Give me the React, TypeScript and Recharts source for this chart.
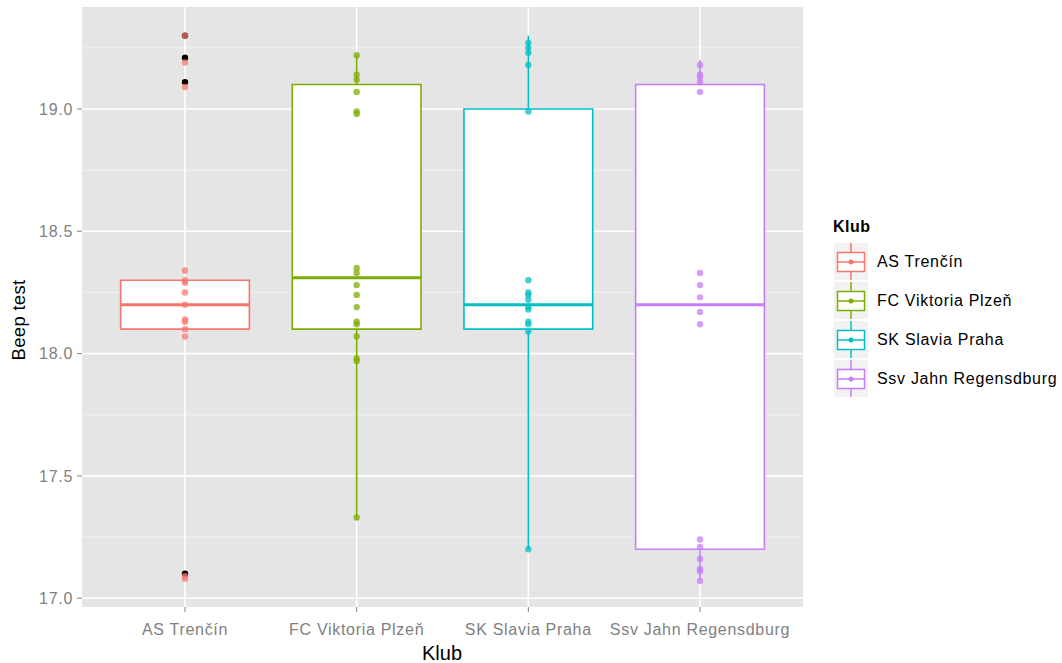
import React from "react";
import {
  ComposedChart, XAxis, YAxis, CartesianGrid, ReferenceArea, ReferenceLine, Scatter,
} from "recharts";

const clubs = ["AS Trenčín", "FC Viktoria Plzeň", "SK Slavia Praha", "Ssv Jahn Regensdburg"];
const colors = ["#F8766D", "#7CAE00", "#00BFC4", "#C77CFF"];

// box stats per club
const q1 = [18.1, 18.1, 18.1, 17.2];
const medians = [18.2, 18.31, 18.2, 18.2];
const q3 = [18.3, 19.1, 19.0, 19.1];
const whiskerLow = [18.1, 17.32, 17.2, 17.07];
const whiskerHigh = [18.3, 19.22, 19.3, 19.2];

// boxplot outliers (black), only AS Trenčín has them
const outliersTrencin = [19.3, 19.21, 19.11, 17.1];

// jittered beep test results
const pointsTrencin = [19.3, 19.19, 19.09, 18.34, 18.3, 18.29, 18.25, 18.2, 18.14, 18.13, 18.1, 18.07, 17.09, 17.08];
const pointsPlzen = [19.22, 19.14, 19.12, 19.07, 18.99, 18.98, 18.35, 18.33, 18.28, 18.24, 18.19, 18.13, 18.12, 18.07, 17.98, 17.97, 17.33];
const pointsSlavia = [19.27, 19.25, 19.23, 19.18, 18.99, 18.3, 18.25, 18.24, 18.22, 18.19, 18.18, 18.13, 18.12, 18.09, 17.2];
const pointsJahn = [19.18, 19.14, 19.13, 19.11, 19.07, 18.33, 18.28, 18.23, 18.17, 18.12, 17.24, 17.21, 17.16, 17.12, 17.11, 17.07];

const yTicks = [17, 17.5, 18, 18.5, 19];
const yMinor = [17.25, 17.75, 18.25, 18.75, 19.25];
const xTicks = [1, 2, 3, 4];

const FONT = '"Liberation Sans", Arial, sans-serif';
const HALF = 0.375;
const SPACING = 0.7;

const pointSets = [pointsTrencin, pointsPlzen, pointsSlavia, pointsJahn];

function dot(color: string, opacity: number, r: number) {
  // eslint-disable-next-line @typescript-eslint/no-explicit-any
  return (p: any) => <circle cx={p.cx} cy={p.cy} r={r} fill={color} fillOpacity={opacity} />;
}

function LegendKey({ color }: { color: string }) {
  return (
    <svg width={34} height={37} style={{ display: "block" }}>
      <rect x={0} y={0} width={34} height={37} fill="#F2F2F2" />
      <line x1={17} y1={0} x2={17} y2={37} stroke={color} strokeWidth={1.5} />
      <rect x={3.5} y={9.5} width={27} height={19} fill="#fff" stroke={color} strokeWidth={1.5} />
      <line x1={3.5} y1={19} x2={30.5} y2={19} stroke={color} strokeWidth={1.5} />
      <circle cx={17} cy={19} r={2.5} fill={color} />
    </svg>
  );
}

const tickStyle = { fill: "#7F7F7F", fontSize: 16, fontFamily: FONT, letterSpacing: SPACING };

export default function App() {
  return (
    <div style={{ position: "absolute", left: 0, top: 0, width: 1062, height: 663, background: "#fff", fontFamily: FONT }}>
      <ComposedChart width={808} height={663} margin={{ top: 7, right: 5, left: 0, bottom: 0 }}>
        <CartesianGrid fill="#E5E5E5" stroke="#F2F2F2" strokeWidth={1} vertical={false}
          horizontalValues={yMinor} />
        <CartesianGrid stroke="#FFFFFF" strokeWidth={1.6} horizontalValues={yTicks} verticalValues={xTicks} />
        <XAxis type="number" dataKey="x" domain={[0.4, 4.6]} ticks={xTicks} allowDataOverflow
          tickFormatter={(v: number) => clubs[v - 1] ?? ""} axisLine={false} height={56}
          tickSize={5} tickMargin={12} tickLine={{ stroke: "#7F7F7F" }}
          tick={tickStyle} interval={0} />
        <YAxis type="number" dataKey="y" domain={[16.964, 19.417]} ticks={yTicks} allowDataOverflow
          tickFormatter={(v: number) => v.toFixed(1)} axisLine={false} width={82}
          tickSize={5} tickMargin={4} tickLine={{ stroke: "#7F7F7F" }}
          tick={tickStyle} />

        {clubs.map((c, i) => (
          <ReferenceLine key={`wl${i}`} segment={[{ x: i + 1, y: whiskerLow[i] }, { x: i + 1, y: q1[i] }]}
            stroke={colors[i]} strokeWidth={1.6} />
        ))}
        {clubs.map((c, i) => (
          <ReferenceLine key={`wh${i}`} segment={[{ x: i + 1, y: q3[i] }, { x: i + 1, y: whiskerHigh[i] }]}
            stroke={colors[i]} strokeWidth={1.6} />
        ))}
        {clubs.map((c, i) => (
          <ReferenceArea key={`box${i}`} x1={i + 1 - HALF} x2={i + 1 + HALF} y1={q1[i]} y2={q3[i]}
            fill="#FFFFFF" fillOpacity={1} stroke={colors[i]} strokeWidth={1.6} />
        ))}
        {clubs.map((c, i) => (
          <ReferenceLine key={`med${i}`} segment={[{ x: i + 1 - HALF, y: medians[i] }, { x: i + 1 + HALF, y: medians[i] }]}
            stroke={colors[i]} strokeWidth={3} />
        ))}

        <Scatter data={outliersTrencin.map((y) => ({ x: 1, y }))} isAnimationActive={false}
          shape={dot("#000000", 1, 3.2)} />
        {pointSets.map((pts, i) => (
          <Scatter key={`pts${i}`} data={pts.map((y) => ({ x: i + 1, y }))} isAnimationActive={false}
            shape={dot(colors[i], 0.75, 3.2)} />
        ))}
      </ComposedChart>

      {/* axis titles */}
      <div style={{ position: "absolute", left: 442, top: 653, transform: "translate(-50%, -50%)", fontSize: 20, color: "#000", whiteSpace: "nowrap", lineHeight: 1 }}>
        Klub
      </div>
      <div style={{ position: "absolute", left: 19, top: 320, transform: "translate(-50%, -50%) rotate(-90deg)", fontSize: 18.5, letterSpacing: 0.3, color: "#000", whiteSpace: "nowrap", lineHeight: 1 }}>
        Beep test
      </div>

      {/* legend */}
      <div style={{ position: "absolute", left: 833, top: 218, fontSize: 16, fontWeight: "bold", color: "#000", letterSpacing: 0.5 }}>Klub</div>
      {clubs.map((c, i) => (
        <div key={c} style={{ position: "absolute", left: 834, top: 243 + i * 39, height: 37, display: "flex", alignItems: "center" }}>
          <LegendKey color={colors[i]} />
          <span style={{ marginLeft: 9, fontSize: 16, color: "#000", whiteSpace: "nowrap", letterSpacing: SPACING }}>{c}</span>
        </div>
      ))}
    </div>
  );
}
